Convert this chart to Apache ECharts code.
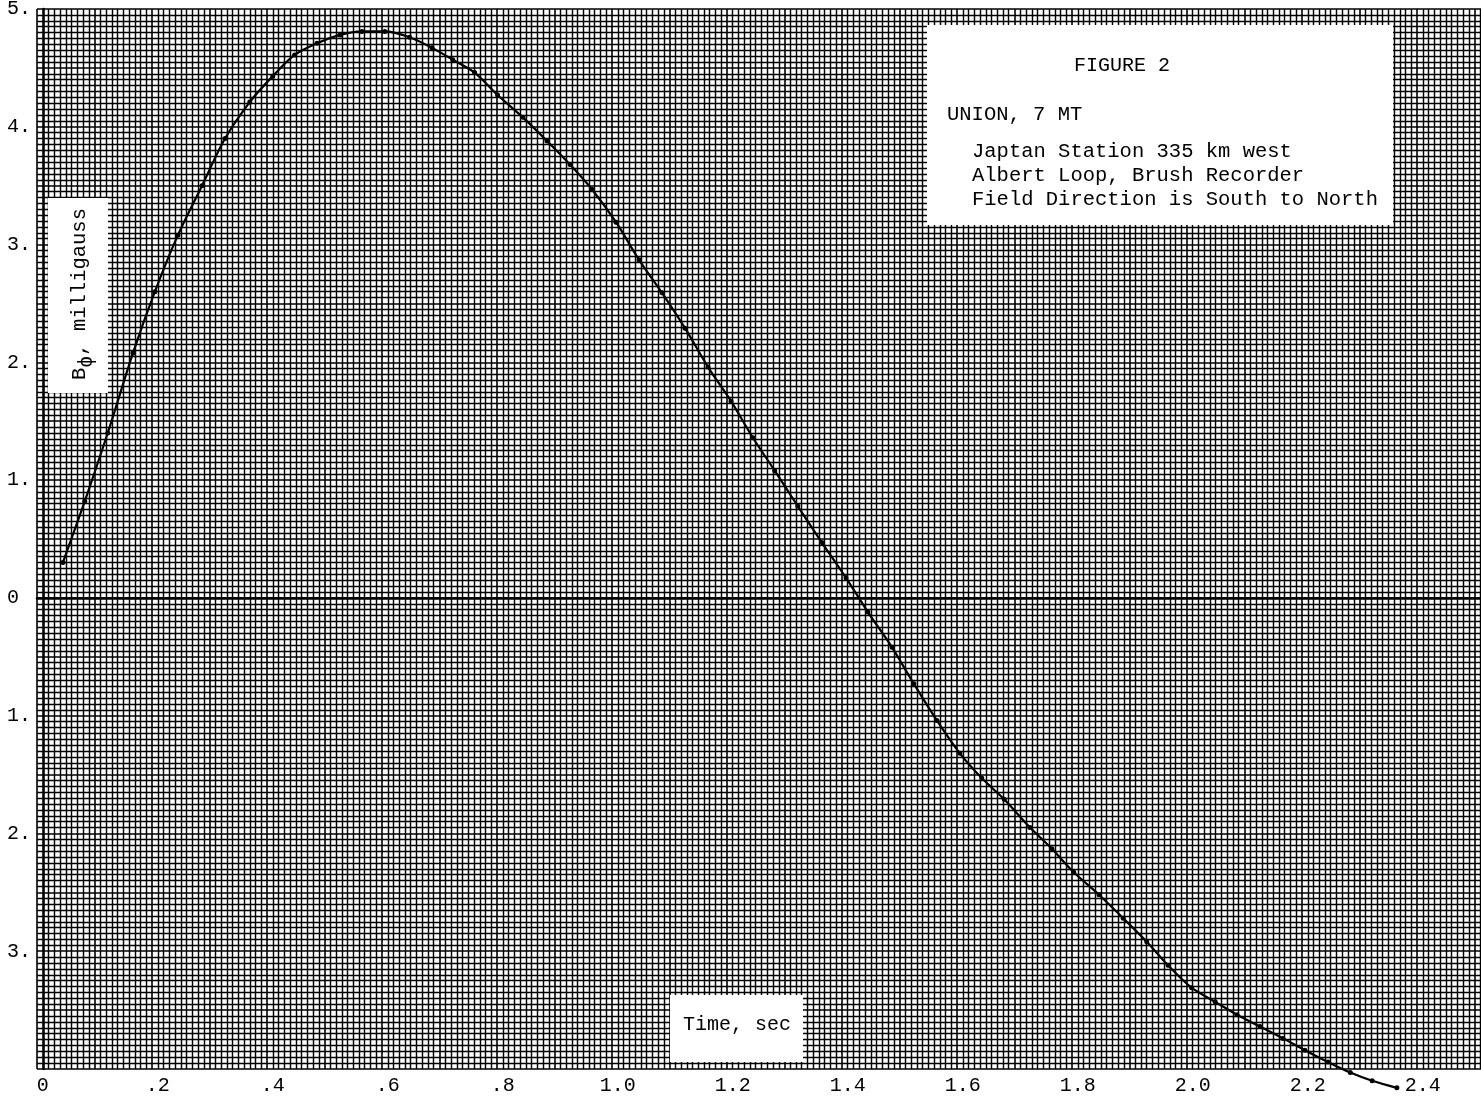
<!DOCTYPE html>
<html><head><meta charset="utf-8">
<script src="https://cdn.jsdelivr.net/npm/echarts@6/dist/echarts.min.js"></script>
<style>html,body{margin:0;padding:0;background:#fff;overflow:hidden}#c{width:1481px;height:1098px}</style>
</head><body><div id="c"></div>
<script>
// ---- data ----
const timeSec = [0.035,0.073,0.113,0.157,0.195,0.235,0.277,0.317,0.360,0.400,0.438,0.477,0.517,0.555,0.595,0.638,0.677,0.713,0.751,0.791,0.835,0.877,0.917,0.955,0.997,1.037,1.077,1.117,1.157,1.197,1.235,1.273,1.313,1.355,1.397,1.435,1.477,1.515,1.555,1.595,1.633,1.672,1.717,1.755,1.793,1.837,1.879,1.920,1.957,1.998,2.039,2.077,2.117,2.157,2.195,2.235,2.274,2.312,2.355];
const bPhi = [0.30,0.82,1.40,2.08,2.60,3.08,3.50,3.90,4.21,4.43,4.61,4.71,4.78,4.81,4.81,4.76,4.67,4.57,4.46,4.27,4.08,3.88,3.68,3.47,3.19,2.87,2.59,2.29,1.96,1.67,1.36,1.08,0.78,0.47,0.17,-0.12,-0.42,-0.73,-1.04,-1.32,-1.53,-1.71,-1.95,-2.13,-2.33,-2.52,-2.72,-2.92,-3.12,-3.31,-3.43,-3.54,-3.64,-3.74,-3.84,-3.94,-4.03,-4.10,-4.16];
const xTickValues = [0,0.2,0.4,0.6,0.8,1.0,1.2,1.4,1.6,1.8,2.0,2.2,2.4];
const xTickLabels = ['0','.2','.4','.6','.8','1.0','1.2','1.4','1.6','1.8','2.0','2.2','2.4'];
const yTickValues = [5,4,3,2,1,0,-1,-2,-3];
const yTickLabels = ['5.','4.','3.','2.','1.','0','1.','2.','3.'];
const figureTitle = 'FIGURE 2';
const figureLines = ['UNION, 7 MT','Japtan Station 335 km west','Albert Loop, Brush Recorder','Field Direction is South to North'];
const yAxisTitle = ['B', 'ϕ', ', milligauss'];
const xAxisTitle = 'Time, sec';

const FONT = '"Liberation Mono", "DejaVu Sans Mono", monospace';
const points = timeSec.map((t, i) => [t, bPhi[i]]);
function pick(vals, labels, v) {
  for (let i = 0; i < vals.length; i++) if (Math.abs(vals[i] - v) < 1e-6) return labels[i];
  return '';
}

const chart = echarts.init(document.getElementById('c'), null, {renderer: 'canvas'});
chart.setOption({
  animation: false,
  backgroundColor: '#fff',
  grid: {left: 37, top: 9, width: 1495, height: 1060, containLabel: false, outerBoundsMode: 'none'},
  xAxis: [
    { // data axis
      type: 'value', min: -0.01, max: 2.59, position: 'bottom',
      axisLine: {show: true, lineStyle: {color: '#000', width: 2.5}},
      axisTick: {show: false},
      splitLine: {show: false},
      axisLabel: {
        customValues: xTickValues, margin: 7, color: '#000',
        fontFamily: FONT, fontSize: 20,
        formatter: v => pick(xTickValues, xTickLabels, v)
      }
    },
    { // graph-paper rulings
      type: 'value', min: 0, max: 2.6, interval: 0.1, position: 'top',
      axisLine: {show: false}, axisTick: {show: false}, axisLabel: {show: false},
      splitLine: {show: true, lineStyle: {color: '#000', width: 1.6}},
      minorTick: {show: false, splitNumber: 10},
      minorSplitLine: {show: true, lineStyle: {color: '#000', width: 1.45}}
    }
  ],
  yAxis: [
    {
      type: 'value', min: -4, max: 5, interval: 1, position: 'left',
      axisLine: {show: true, lineStyle: {color: '#000', width: 2.5}},
      axisTick: {show: false},
      splitLine: {show: false},
      axisLabel: {
        margin: 30, align: 'left', color: '#000',
        fontFamily: FONT, fontSize: 20,
        formatter: v => pick(yTickValues, yTickLabels, v)
      }
    },
    {
      type: 'value', min: -4, max: 5, interval: 0.5, position: 'right',
      axisLine: {show: false}, axisTick: {show: false}, axisLabel: {show: false},
      splitLine: {show: true, lineStyle: {color: '#000', width: 1.6}},
      minorTick: {show: false, splitNumber: 10},
      minorSplitLine: {show: true, lineStyle: {color: '#000', width: 1.45}}
    }
  ],
  series: [{
    type: 'line', xAxisIndex: 0, yAxisIndex: 0,
    data: points, smooth: 0.3, clip: false,
    symbol: 'circle', symbolSize: 5, showAllSymbol: true,
    itemStyle: {color: '#000'},
    lineStyle: {color: '#000', width: 2.2},
    z: 10,
    markLine: {
      silent: true, symbol: 'none', label: {show: false},
      lineStyle: {color: '#000', width: 2, type: 'solid'},
      data: [{yAxis: 0}]
    }
  }],
  graphic: [
    {type: 'rect', z: 100, shape: {x: 927, y: 25, width: 466, height: 200}, style: {fill: '#fff'}},
    {type: 'text', z: 101, x: 1122, y: 66, style: {text: figureTitle, font: '20px ' + FONT, fill: '#000', align: 'center', verticalAlign: 'middle'}},
    {type: 'text', z: 101, x: 947, y: 115, style: {text: figureLines[0], font: '20.5px ' + FONT, fill: '#000', align: 'left', verticalAlign: 'middle'}},
    {type: 'text', z: 101, x: 972, y: 152, style: {text: figureLines[1], font: '20.5px ' + FONT, fill: '#000', align: 'left', verticalAlign: 'middle'}},
    {type: 'text', z: 101, x: 972, y: 176, style: {text: figureLines[2], font: '20.5px ' + FONT, fill: '#000', align: 'left', verticalAlign: 'middle'}},
    {type: 'text', z: 101, x: 972, y: 200, style: {text: figureLines[3], font: '20.5px ' + FONT, fill: '#000', align: 'left', verticalAlign: 'middle'}},
    {type: 'rect', z: 100, shape: {x: 48, y: 198, width: 60, height: 195}, style: {fill: '#fff'}},
    {type: 'text', z: 101, x: 80, y: 294, rotation: Math.PI / 2,
      style: {
        text: '{b|' + yAxisTitle[0] + '}{s|' + yAxisTitle[1] + '}{b|' + yAxisTitle[2] + '}',
        align: 'center', verticalAlign: 'middle', fill: '#000',
        rich: {
          b: {fontFamily: FONT, fontSize: 20.5, color: '#000'},
          s: {fontFamily: FONT, fontSize: 20, color: '#000', padding: [14, 0, 0, 0]}
        }
      }},
    {type: 'rect', z: 100, shape: {x: 670, y: 995, width: 133, height: 67}, style: {fill: '#fff'}},
    {type: 'text', z: 101, x: 737, y: 1025, style: {text: xAxisTitle, font: '20px ' + FONT, fill: '#000', align: 'center', verticalAlign: 'middle'}}
  ]
});
</script></body></html>
